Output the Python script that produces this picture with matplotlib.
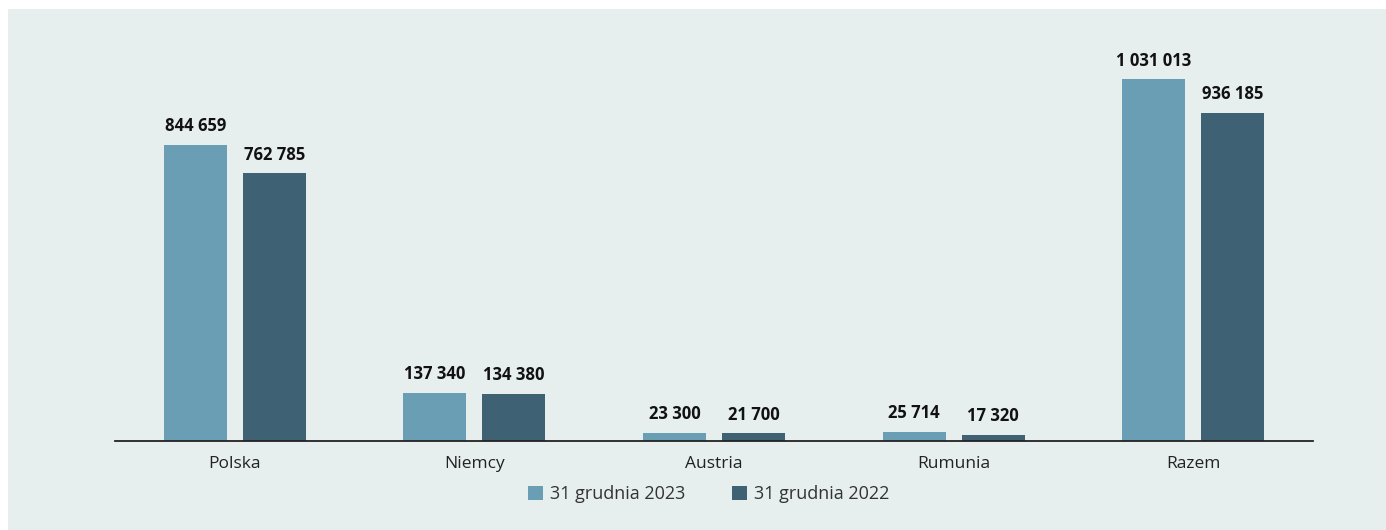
import matplotlib.pyplot as plt
import numpy as np
from matplotlib.patches import Rectangle

categories = ["Polska", "Niemcy", "Austria", "Rumunia", "Razem"]
values_2023 = [844659, 137340, 23300, 25714, 1031013]
values_2022 = [762785, 134380, 21700, 17320, 936185]
series_labels = ["31 grudnia 2023", "31 grudnia 2022"]

LIGHT = "#6A9EB5"
DARK = "#3E6274"
PANEL = "#E7EFEE"

plt.rcParams['font.family'] = ['Open Sans', 'DejaVu Sans']


def fmt(v):
    return f"{v:,}".replace(",", " ")


fig = plt.figure(figsize=(13.86, 5.30), dpi=100)
fig.patch.set_facecolor("white")
fig.patches.append(Rectangle((8 / 1386, 0), 1 - 8 / 1386, 1 - 9 / 530,
                             transform=fig.transFigure, facecolor=PANEL,
                             edgecolor="none", zorder=-10))

ax = fig.add_axes([115 / 1386, 89 / 530, 1198 / 1386, 421 / 530])
ax.set_facecolor("none")

x = np.arange(len(categories))
w = 0.263
off = 0.165
b1 = ax.bar(x - off, values_2023, w, color=LIGHT, label=series_labels[0])
b2 = ax.bar(x + off, values_2022, w, color=DARK, label=series_labels[1])

for bars, vals in ((b1, values_2023), (b2, values_2022)):
    for rect, v in zip(bars, vals):
        ax.annotate(fmt(v), (rect.get_x() + rect.get_width() / 2, v),
                    xytext=(0, 7), textcoords="offset points",
                    ha="center", va="bottom", fontsize=12,
                    fontweight="bold", color="#111111")

ax.set_xlim(-0.5, 4.5)
ax.set_ylim(0, 1.2e6)
ax.set_xticks(x)
ax.set_xticklabels(categories, fontsize=12.5, color="#222222")
ax.tick_params(axis="x", length=0, pad=11)
ax.set_yticks([])
for s in ("top", "right", "left"):
    ax.spines[s].set_visible(False)
ax.spines["bottom"].set_color("#222222")
ax.spines["bottom"].set_linewidth(1.3)

fig.legend(loc="center", bbox_to_anchor=(709 / 1386, 1 - 494 / 530), ncol=2,
           frameon=False, fontsize=13, handlelength=0.8, handleheight=0.8,
           columnspacing=2.6, handletextpad=0.4, labelcolor="#333333")

fig.savefig("out.png", dpi=100)
